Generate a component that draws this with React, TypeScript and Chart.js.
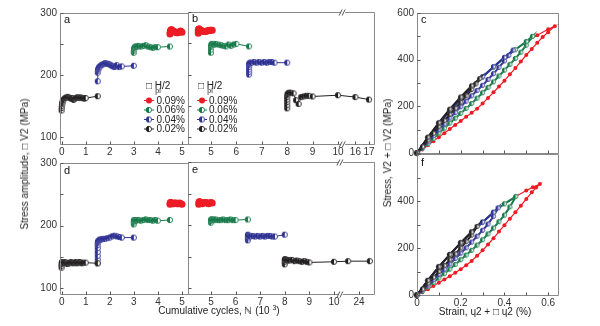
import React, { useEffect, useRef } from "react";
import { Chart, registerables } from "chart.js";
Chart.register(...registerables);

const FONT = "'Liberation Sans', Arial, sans-serif";
const TXT = "#333333";
const FRAME = "#8a8a8a";
const RED = "#ed1c24";
const GREEN = "#17794a";
const BLUE = "#2e3192";
const BLACK = "#231f20";

// ---------------- tick values ----------------
const aTicksX = [0, 1, 2, 3, 4, 5];
const bTicksX = [5, 6, 7, 8, 9, 10, 16, 17];
const eTicksX = [5, 6, 7, 8, 9, 10, 24];
const ampTicksY = [100, 200, 300];
const ampMinorY = [100, 150, 200, 250, 300];
const loopTicksX = [0, 0.2, 0.4, 0.6];
const loopTicksY = [0, 200, 400, 600];
const loopMinorY = [0, 100, 200, 300, 400, 500, 600];
const loopMinorX = [0, 0.1, 0.2, 0.3, 0.4, 0.5, 0.6];
const legendLabels = ["0.09%", "0.06%", "0.04%", "0.02%"];

// ---------------- panel a ----------------
const aBlackX = [0, 0.005, 0.01, 0.02, 0.03, 0.04, 0.05, 0.07, 0.1, 0.15, 0.2, 0.25, 0.3, 0.35, 0.4, 0.45, 0.5, 0.55, 0.6, 0.65, 0.7, 0.75, 0.8, 0.85, 0.9, 0.95, 1.0, 1.5];
const aBlackY = [143, 147, 150, 153, 155, 157, 158, 160, 161, 163, 164, 165, 164, 163, 162, 163, 160, 162, 163, 164, 164, 163, 164, 163, 163, 162, 163, 166];
const aBlueX = [1.5, 1.5, 1.51, 1.52, 1.53, 1.55, 1.57, 1.6, 1.65, 1.7, 1.75, 1.8, 1.85, 1.9, 1.95, 2.0, 2.05, 2.1, 2.15, 2.2, 2.25, 2.3, 2.4, 2.5, 3.0];
const aBlueY = [190, 204, 207, 209, 210, 212, 213, 214, 216, 217, 218, 219, 219, 218, 218, 217, 216, 215, 214, 213, 214, 216, 213, 214, 215];
const aGreenX = [3.0, 3.0, 3.01, 3.02, 3.03, 3.05, 3.08, 3.1, 3.15, 3.2, 3.3, 3.4, 3.5, 3.6, 3.7, 3.8, 3.9, 4.0, 4.5];
const aGreenY = [236, 239, 241, 243, 244, 245, 246, 246, 246, 247, 246, 247, 248, 246, 245, 244, 245, 245, 246];
const aRedX = [4.5, 4.51, 4.52, 4.53, 4.55, 4.57, 4.6, 4.63, 4.66, 4.7, 4.74, 4.78, 4.82, 4.86, 4.9, 4.94, 4.97, 5.0];
const aRedY = [266, 269, 271, 272, 273, 273, 272, 271, 270, 270, 269, 268, 268, 269, 270, 271, 270, 269];

// ---------------- panel b ----------------
const bRedX = [4.5, 4.5, 4.51, 4.52, 4.54, 4.56, 4.6, 4.65, 4.7, 4.75, 4.8, 4.85, 4.9, 4.95, 5.0, 5.05];
const bRedY = [266, 270, 272, 273, 273, 272, 271, 270, 269, 269, 269, 270, 270, 271, 271, 271];
const bGreenX = [5.0, 5.0, 5.0, 5.01, 5.02, 5.04, 5.07, 5.1, 5.15, 5.2, 5.3, 5.4, 5.5, 5.6, 5.7, 5.8, 5.9, 6.0, 6.5];
const bGreenY = [235, 240, 244, 246, 248, 249, 249, 248, 248, 249, 248, 247, 246, 245, 248, 246, 248, 249, 245];
const bBlueX = [6.5, 6.5, 6.5, 6.5, 6.5, 6.51, 6.52, 6.55, 6.6, 6.7, 6.8, 6.9, 7.0, 7.1, 7.2, 7.3, 7.4, 7.5, 8.0];
const bBlueY = [200, 204, 208, 212, 215, 217, 218, 219, 219, 220, 219, 220, 219, 220, 219, 220, 220, 219, 219];
const bBlackX = [8.0, 8.0, 8.0, 8.0, 8.0, 8.01, 8.02, 8.04, 8.08, 8.15, 8.25, 8.35, 8.45, 8.55, 8.65, 8.75, 8.85, 9.0, 10, 16, 17];
const bBlackY = [146, 151, 156, 160, 164, 167, 169, 170, 171, 171, 170, 159, 153, 164, 165, 166, 166, 165, 167, 164, 160];

// ---------------- panel d ----------------
const dBlackX = [0, 0, 0, 0.01, 0.02, 0.03, 0.05, 0.08, 0.1, 0.15, 0.2, 0.25, 0.3, 0.35, 0.4, 0.45, 0.5, 0.55, 0.6, 0.65, 0.7, 0.75, 0.8, 0.85, 0.9, 1.0, 1.5];
const dBlackY = [133, 136, 139, 141, 142, 142, 141, 140, 141, 142, 140, 139, 141, 140, 142, 141, 140, 141, 142, 140, 141, 142, 141, 140, 141, 141, 140];
const dBlueX = [1.5, 1.5, 1.5, 1.5, 1.5, 1.5, 1.5, 1.51, 1.52, 1.54, 1.57, 1.6, 1.65, 1.7, 1.8, 1.9, 2.0, 2.1, 2.2, 2.3, 2.4, 2.5, 3.0];
const dBlueY = [140, 146, 152, 158, 164, 169, 172, 174, 175, 176, 177, 178, 178, 179, 179, 180, 181, 183, 184, 183, 182, 181, 181];
const dGreenX = [3.0, 3.0, 3.0, 3.01, 3.02, 3.04, 3.07, 3.1, 3.15, 3.2, 3.3, 3.4, 3.5, 3.6, 3.7, 3.8, 3.9, 4.0, 4.5];
const dGreenY = [202, 205, 207, 208, 209, 209, 208, 208, 209, 209, 208, 209, 210, 209, 209, 208, 209, 208, 209];
const dRedX = [4.5, 4.51, 4.52, 4.54, 4.56, 4.6, 4.65, 4.7, 4.75, 4.8, 4.85, 4.9, 4.95, 5.0];
const dRedY = [234, 236, 237, 237, 236, 235, 235, 236, 236, 235, 235, 236, 235, 234];

// ---------------- panel e ----------------
const eRedX = [4.5, 4.51, 4.52, 4.54, 4.57, 4.6, 4.65, 4.7, 4.75, 4.8, 4.85, 4.9, 4.95, 5.0, 5.05];
const eRedY = [233, 236, 237, 237, 236, 235, 234, 235, 236, 236, 235, 234, 235, 236, 235];
const eGreenX = [5.0, 5.0, 5.01, 5.02, 5.04, 5.07, 5.1, 5.15, 5.2, 5.3, 5.4, 5.5, 5.6, 5.7, 5.8, 5.9, 6.0, 6.5];
const eGreenY = [204, 207, 208, 209, 209, 208, 209, 208, 209, 208, 208, 209, 208, 208, 209, 208, 208, 209];
const eBlueX = [6.5, 6.5, 6.5, 6.5, 6.51, 6.52, 6.55, 6.6, 6.7, 6.8, 6.9, 7.0, 7.1, 7.2, 7.3, 7.4, 7.5, 7.6, 8.0];
const eBlueY = [176, 179, 182, 184, 185, 184, 183, 182, 183, 182, 183, 182, 183, 182, 183, 183, 182, 182, 185];
const eBlackX = [8.0, 8.0, 8.0, 8.01, 8.03, 8.06, 8.1, 8.15, 8.2, 8.3, 8.4, 8.5, 8.6, 8.7, 8.8, 8.9, 9.0, 10, 22, 26];
const eBlackY = [138, 142, 145, 146, 146, 145, 144, 145, 144, 145, 143, 144, 143, 142, 143, 142, 141, 142, 143, 143];

// ---------------- panel c (hysteresis loops: loading up, then unloading back) ----------------
const cRedStrain = [0, 0.025, 0.05, 0.075, 0.1, 0.125, 0.15, 0.175, 0.2, 0.225, 0.25, 0.275, 0.3, 0.325, 0.35, 0.375, 0.4, 0.425, 0.45, 0.475, 0.5, 0.525, 0.55, 0.575, 0.6, 0.63, 0.6, 0.55, 0.5, 0.45, 0.4, 0.35, 0.3, 0.25, 0.2, 0.15, 0.1, 0.05, 0];
const cRedStress = [0, 15, 33, 50, 68, 85, 103, 120, 137, 155, 172, 190, 212, 236, 260, 285, 310, 337, 364, 392, 420, 446, 472, 497, 518, 543, 530, 505, 476, 443, 408, 368, 325, 280, 232, 180, 125, 65, 0];
const cGreenStrain = [0, 0.025, 0.05, 0.075, 0.1, 0.125, 0.15, 0.175, 0.2, 0.225, 0.25, 0.275, 0.3, 0.325, 0.35, 0.375, 0.4, 0.425, 0.45, 0.475, 0.5, 0.528, 0.5, 0.45, 0.4, 0.35, 0.3, 0.25, 0.2, 0.15, 0.1, 0.05, 0];
const cGreenStress = [0, 20, 40, 62, 85, 106, 128, 149, 170, 191, 212, 235, 258, 281, 305, 330, 355, 380, 405, 432, 462, 500, 478, 443, 408, 368, 325, 280, 232, 180, 125, 65, 0];
const cBlueStrain = [0, 0.025, 0.05, 0.075, 0.1, 0.125, 0.15, 0.175, 0.2, 0.225, 0.25, 0.275, 0.3, 0.325, 0.35, 0.375, 0.4, 0.42, 0.44, 0.4, 0.35, 0.3, 0.25, 0.2, 0.15, 0.1, 0.05, 0];
const cBlueStress = [0, 24, 48, 74, 100, 125, 150, 174, 198, 222, 245, 268, 290, 315, 340, 367, 395, 418, 441, 410, 370, 327, 282, 234, 182, 127, 66, 0];
const cBlackStrain = [0, 0.025, 0.05, 0.075, 0.1, 0.125, 0.15, 0.175, 0.2, 0.225, 0.25, 0.27, 0.287, 0.25, 0.2, 0.15, 0.1, 0.05, 0];
const cBlackStress = [0, 27, 55, 84, 112, 139, 165, 192, 218, 245, 272, 296, 319, 288, 240, 188, 130, 68, 0];

// ---------------- panel f ----------------
const fRedStrain = [0, 0.025, 0.05, 0.075, 0.1, 0.125, 0.15, 0.175, 0.2, 0.225, 0.25, 0.275, 0.3, 0.325, 0.35, 0.375, 0.4, 0.425, 0.45, 0.475, 0.5, 0.525, 0.545, 0.562, 0.53, 0.5, 0.45, 0.4, 0.35, 0.3, 0.25, 0.2, 0.15, 0.1, 0.05, 0];
const fRedStress = [0, 12, 25, 38, 52, 66, 80, 95, 110, 127, 145, 167, 190, 215, 242, 270, 297, 325, 352, 380, 409, 437, 457, 472, 458, 445, 418, 388, 352, 310, 268, 222, 172, 120, 62, 0];
const fGreenStrain = [0, 0.025, 0.05, 0.075, 0.1, 0.125, 0.15, 0.175, 0.2, 0.225, 0.25, 0.275, 0.3, 0.325, 0.35, 0.375, 0.4, 0.425, 0.452, 0.4, 0.35, 0.3, 0.25, 0.2, 0.15, 0.1, 0.05, 0];
const fGreenStress = [0, 17, 35, 53, 72, 91, 110, 130, 150, 170, 190, 212, 235, 260, 285, 312, 340, 375, 419, 388, 352, 310, 268, 222, 172, 120, 62, 0];
const fBlueStrain = [0, 0.025, 0.05, 0.075, 0.1, 0.125, 0.15, 0.175, 0.2, 0.225, 0.25, 0.275, 0.3, 0.325, 0.35, 0.371, 0.35, 0.3, 0.25, 0.2, 0.15, 0.1, 0.05, 0];
const fBlueStress = [0, 21, 42, 65, 88, 110, 132, 155, 178, 201, 225, 250, 275, 302, 335, 371, 352, 310, 268, 222, 172, 120, 62, 0];
const fBlackStrain = [0, 0.025, 0.05, 0.075, 0.1, 0.125, 0.15, 0.175, 0.2, 0.225, 0.25, 0.275, 0.25, 0.2, 0.15, 0.1, 0.05, 0];
const fBlackStress = [0, 25, 50, 75, 100, 125, 150, 175, 200, 227, 255, 292, 268, 222, 172, 120, 62, 0];

// ---------------- axis breaks ----------------
const bMap = (v: number) => (v <= 10 ? v : 10.683 + (v - 16) * 0.535);
const eMap = (v: number) => (v <= 10 ? v : 11.016 + (v - 24) * 0.22);

// ---------------- layout helpers ----------------
const ML = 40, MT = 8, MR = 8, MB = 20;

const markerCache: Record<string, HTMLCanvasElement> = {};
function halfMarker(color: string, r: number): HTMLCanvasElement {
  const key = color + r;
  if (markerCache[key]) return markerCache[key];
  const c = document.createElement("canvas");
  const s = Math.ceil(2 * r + 2);
  c.width = s;
  c.height = s;
  const g = c.getContext("2d")!;
  const m = s / 2;
  g.beginPath();
  g.arc(m, m, r, 0, Math.PI * 2);
  g.fillStyle = "#fff";
  g.fill();
  g.beginPath();
  g.moveTo(m, m - r);
  g.arc(m, m, r, -Math.PI / 2, Math.PI / 2, true);
  g.closePath();
  g.fillStyle = color;
  g.fill();
  g.beginPath();
  g.arc(m, m, r - 0.4, 0, Math.PI * 2);
  g.strokeStyle = color;
  g.lineWidth = 0.9;
  g.stroke();
  markerCache[key] = c;
  return c;
}

type Ser = { xs: number[]; ys: number[]; color: string; filled: boolean; r: number; lw: number };
type Spec = {
  id: string;
  rect: [number, number, number, number];
  x: [number, number];
  y: [number, number];
  xTicks: number[];
  xMap?: (v: number) => number;
  showX: boolean;
  yTicks: number[];
  showY: boolean;
  yMinor: number[];
  xMinor: number[];
  series: Ser[];
  letter: string;
  letterDy: number;
  breakAt?: number;
  legend?: { hx: number; hy: number; lx: number; tx: number; ys: number[] };
  legendSeries?: Ser[];
  fmt: (v: number) => string;
};

function buildChart(canvas: HTMLCanvasElement, s: Spec) {
  const [pl, pt] = s.rect;
  const ox = pl - ML, oy = pt - MT;
  const map = s.xMap || ((v: number) => v);
  const datasets = s.series.map((se) => ({
    data: se.xs.map((x, i) => ({ x: map(x), y: se.ys[i] })),
    showLine: true,
    borderColor: se.color,
    backgroundColor: se.color,
    borderWidth: se.lw,
    pointStyle: se.filled ? "circle" : (halfMarker(se.color, se.r) as any),
    pointRadius: se.r,
    pointBackgroundColor: se.color,
    pointBorderColor: se.color,
    pointBorderWidth: 0,
    tension: 0,
    clip: 6,
  }));
  const tickFont = { family: FONT, size: 10 };
  const deco = {
    id: "deco" + s.id,
    afterDatasetsDraw(chart: any) {
      const ctx = chart.ctx as CanvasRenderingContext2D;
      const a = chart.chartArea;
      const xs = chart.scales.x, ys = chart.scales.y;
      ctx.save();
      ctx.strokeStyle = FRAME;
      ctx.lineWidth = 1;
      const L = Math.round(a.left) + 0.5, T = Math.round(a.top) + 0.5;
      const R = Math.round(a.right) + 0.5, B = Math.round(a.bottom) + 0.5;
      ctx.beginPath();
      ctx.rect(L, T, R - L, B - T);
      ctx.stroke();
      // inward tick marks
      ctx.strokeStyle = "#555";
      ctx.beginPath();
      for (const v of s.yMinor) {
        const py = Math.round(ys.getPixelForValue(v)) + 0.5;
        ctx.moveTo(L, py);
        ctx.lineTo(L + 3, py);
      }
      for (const v of s.xMinor) {
        const px = Math.round(xs.getPixelForValue(map(v))) + 0.5;
        ctx.moveTo(px, B);
        ctx.lineTo(px, B - 3);
      }
      ctx.stroke();
      // axis break marks
      if (s.breakAt !== undefined) {
        const px = xs.getPixelForValue(s.breakAt);
        for (const yy of [T, B]) {
          ctx.fillStyle = "#fff";
          ctx.fillRect(px - 2, yy - 1.5, 4, 3);
          ctx.strokeStyle = "#555";
          ctx.beginPath();
          ctx.moveTo(px - 4, yy + 3);
          ctx.lineTo(px - 1, yy - 3);
          ctx.moveTo(px - 1, yy + 3);
          ctx.lineTo(px + 2, yy - 3);
          ctx.stroke();
        }
      }
      // panel letter
      ctx.fillStyle = "#111";
      ctx.font = `11px ${FONT}`;
      ctx.textBaseline = "alphabetic";
      ctx.textAlign = "left";
      ctx.fillText(s.letter, a.left + 4, a.top + s.letterDy);
      // legend
      if (s.legend && s.legendSeries) {
        const lg = s.legend;
        ctx.fillStyle = "#222";
        ctx.font = `10px ${FONT}`;
        let hx = lg.hx - ox;
        const hy = lg.hy - oy;
        ctx.fillText("\u25A1 ", hx, hy);
        hx += ctx.measureText("\u25A1 ").width;
        ctx.fillText("H", hx, hy);
        const hw = ctx.measureText("H").width;
        ctx.font = `7px ${FONT}`;
        ctx.fillText("pl", hx + 0.5, hy + 4);
        ctx.font = `10px ${FONT}`;
        ctx.fillText("/2", hx + hw, hy);
        s.legendSeries.forEach((se, i) => {
          const cy = lg.ys[i] - oy;
          const x0 = lg.lx - ox;
          ctx.strokeStyle = se.color;
          ctx.lineWidth = 1;
          ctx.beginPath();
          ctx.moveTo(x0, cy + 0.5);
          ctx.lineTo(x0 + 10, cy + 0.5);
          ctx.stroke();
          if (se.filled) {
            ctx.fillStyle = se.color;
            ctx.beginPath();
            ctx.arc(x0 + 5, cy + 0.5, 3, 0, Math.PI * 2);
            ctx.fill();
          } else {
            const img = halfMarker(se.color, 3);
            ctx.drawImage(img, x0 + 5 - img.width / 2, cy + 0.5 - img.height / 2);
          }
          ctx.fillStyle = "#222";
          ctx.font = `10px ${FONT}`;
          ctx.textBaseline = "middle";
          ctx.fillText(legendLabels[i], lg.tx - ox, cy + 1);
          ctx.textBaseline = "alphabetic";
        });
      }
      ctx.restore();
    },
  };
  return new Chart(canvas, {
    type: "scatter",
    data: { datasets: datasets as any },
    plugins: [deco as any],
    options: {
      responsive: false,
      animation: false,
      devicePixelRatio: 1,
      events: [],
      layout: { padding: { left: 0, top: MT, right: MR, bottom: 0 } },
      plugins: { legend: { display: false }, tooltip: { enabled: false } },
      scales: {
        x: {
          type: "linear",
          min: s.x[0],
          max: s.x[1],
          afterFit: (sc: any) => {
            sc.height = MB;
          },
          afterBuildTicks: (sc: any) => {
            sc.ticks = s.xTicks.map((v) => ({ value: map(v) }));
          },
          ticks: {
            display: s.showX,
            autoSkip: false,
            maxRotation: 0,
            minRotation: 0,
            padding: 2,
            font: tickFont,
            color: TXT,
            callback: (_v: any, i: number) => s.fmt(s.xTicks[i]),
          },
          grid: { display: false, drawTicks: false },
          border: { display: false },
        },
        y: {
          type: "linear",
          min: s.y[0],
          max: s.y[1],
          afterFit: (sc: any) => {
            sc.width = ML;
          },
          afterBuildTicks: (sc: any) => {
            sc.ticks = s.yTicks.map((v) => ({ value: v }));
          },
          ticks: {
            display: s.showY,
            padding: 3,
            font: tickFont,
            color: TXT,
            callback: (v: any) => String(v),
          },
          grid: { display: false, drawTicks: false },
          border: { display: false },
        },
      },
    } as any,
  });
}

function Panel({ spec }: { spec: Spec }) {
  const ref = useRef<HTMLCanvasElement>(null);
  useEffect(() => {
    const chart = buildChart(ref.current!, spec);
    return () => chart.destroy();
  }, []);
  const [l, t, w, h] = spec.rect;
  const W = w + ML + MR, H = h + MT + MB;
  return (
    <canvas
      ref={ref}
      width={W}
      height={H}
      style={{ position: "absolute", left: l - ML, top: t - MT, width: W, height: H }}
    />
  );
}

const ser = (xs: number[], ys: number[], color: string, filled: boolean, r: number, lw = 1): Ser => ({ xs, ys, color, filled, r, lw });
const intFmt = (v: number) => String(v);
const decFmt = (v: number) => (v === 0 ? "0" : v.toFixed(1));
const legSer = [ser([], [], RED, true, 3), ser([], [], GREEN, false, 3), ser([], [], BLUE, false, 3), ser([], [], BLACK, false, 3)];

const specs: Spec[] = [
  {
    id: "a", rect: [60, 12, 128, 132], x: [-0.07, 5.25], y: [89, 300],
    xTicks: aTicksX, showX: true, yTicks: ampTicksY, showY: true, yMinor: ampMinorY, xMinor: aTicksX,
    series: [ser(aBlackX, aBlackY, BLACK, false, 3), ser(aBlueX, aBlueY, BLUE, false, 3), ser(aGreenX, aGreenY, GREEN, false, 3), ser(aRedX, aRedY, RED, true, 3.5)],
    letter: "a", letterDy: 10, fmt: intFmt,
    legend: { hx: 146, hy: 89, lx: 144, tx: 156.5, ys: [100, 109.5, 119, 128.5] }, legendSeries: legSer,
  },
  {
    id: "b", rect: [188, 12, 186, 132], x: [4.097, 11.414], y: [89, 300], xMap: bMap, breakAt: 10.2,
    xTicks: bTicksX, showX: true, yTicks: ampTicksY, showY: false, yMinor: ampMinorY, xMinor: bTicksX,
    series: [ser(bBlackX, bBlackY, BLACK, false, 3), ser(bBlueX, bBlueY, BLUE, false, 3), ser(bGreenX, bGreenY, GREEN, false, 3), ser(bRedX, bRedY, RED, true, 3.5)],
    letter: "b", letterDy: 10, fmt: intFmt,
    legend: { hx: 198, hy: 89, lx: 197, tx: 209, ys: [100, 109.5, 119, 128.5] }, legendSeries: legSer,
  },
  {
    id: "c", rect: [417, 12, 141, 141], x: [0, 0.645], y: [0, 600],
    xTicks: loopTicksX, showX: false, yTicks: loopTicksY, showY: true, yMinor: loopMinorY, xMinor: loopMinorX,
    series: [ser(cBlackStrain, cBlackStress, BLACK, false, 2.5, 2), ser(cBlueStrain, cBlueStress, BLUE, false, 2.5, 2), ser(cGreenStrain, cGreenStress, GREEN, false, 2.5, 2), ser(cRedStrain, cRedStress, RED, true, 2, 1.2)],
    letter: "c", letterDy: 10, fmt: decFmt,
  },
  {
    id: "d", rect: [60, 162, 128, 132], x: [-0.07, 5.25], y: [91, 300],
    xTicks: aTicksX, showX: true, yTicks: ampTicksY, showY: true, yMinor: ampMinorY, xMinor: aTicksX,
    series: [ser(dBlackX, dBlackY, BLACK, false, 3), ser(dBlueX, dBlueY, BLUE, false, 3), ser(dGreenX, dGreenY, GREEN, false, 3), ser(dRedX, dRedY, RED, true, 3.5)],
    letter: "d", letterDy: 11, fmt: intFmt,
  },
  {
    id: "e", rect: [188, 162, 186, 132], x: [4.065, 11.626], y: [91, 300], xMap: eMap, breakAt: 10.28,
    xTicks: eTicksX, showX: true, yTicks: ampTicksY, showY: false, yMinor: ampMinorY, xMinor: eTicksX,
    series: [ser(eBlackX, eBlackY, BLACK, false, 3), ser(eBlueX, eBlueY, BLUE, false, 3), ser(eGreenX, eGreenY, GREEN, false, 3), ser(eRedX, eRedY, RED, true, 3.5)],
    letter: "e", letterDy: 11, fmt: intFmt,
  },
  {
    id: "f", rect: [417, 153, 141, 142], x: [0, 0.645], y: [0, 600],
    xTicks: loopTicksX, showX: true, yTicks: [0, 200, 400], showY: true, yMinor: loopMinorY, xMinor: loopMinorX,
    series: [ser(fBlackStrain, fBlackStress, BLACK, false, 2.5, 2), ser(fBlueStrain, fBlueStress, BLUE, false, 2.5, 2), ser(fGreenStrain, fGreenStress, GREEN, false, 2.5, 2), ser(fRedStrain, fRedStress, RED, true, 2, 1.2)],
    letter: "f", letterDy: 12, fmt: decFmt,
  },
];

const titleStyle = (cx: number, cy: number, rot: boolean): React.CSSProperties => ({
  position: "absolute",
  left: cx,
  top: cy,
  transform: `translate(-50%, -50%)${rot ? " rotate(-90deg)" : ""}`,
  whiteSpace: "nowrap",
  fontFamily: FONT,
  fontSize: 10,
  color: "#222",
  lineHeight: "12px",
});

export default function App() {
  return (
    <div style={{ position: "absolute", left: 0, top: 0, width: 600, height: 326, background: "#fff", overflow: "hidden" }}>
      {specs.map((s) => (
        <Panel key={s.id} spec={s} />
      ))}
      <div style={titleStyle(25, 164, true)}>Stress amplitude, {"\u25A1"} V2 (MPa)</div>
      <div style={titleStyle(219, 311, false)}>
        Cumulative cycles, {"\u2115"} (10 <sup style={{ fontSize: 7, verticalAlign: "4px", lineHeight: 0 }}>3</sup>)
      </div>
      <div style={titleStyle(388, 153, true)}>Stress,  V2 + {"\u25A1"} V2 (MPa)</div>
      <div style={titleStyle(485, 312, false)}>Strain,  {"\u0265"}2 + {"\u25A1"} {"\u0265"}2 (%)</div>
    </div>
  );
}
